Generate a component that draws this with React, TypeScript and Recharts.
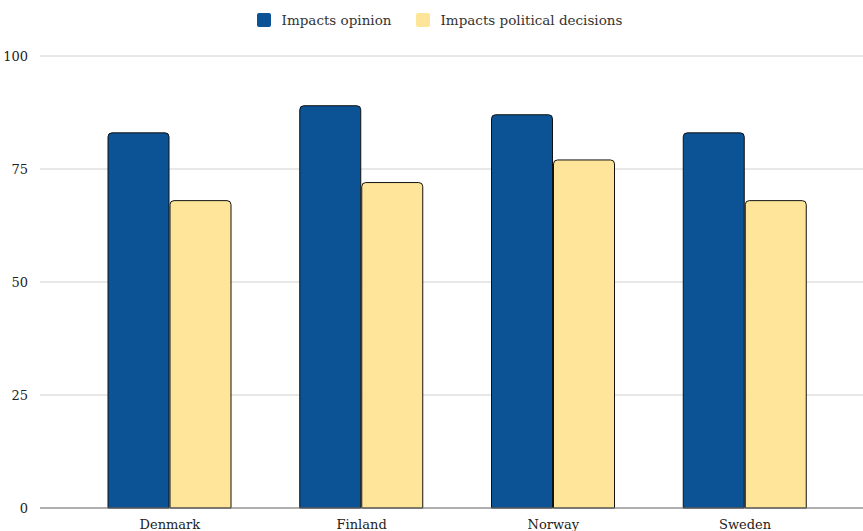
import { BarChart, Bar, XAxis, YAxis, CartesianGrid, Legend } from 'recharts';

const countries = ['Denmark', 'Finland', 'Norway', 'Sweden'];
const opinion = [83, 89, 87, 83];
const decisions = [68, 72, 77, 68];
const yTicks = [0, 25, 50, 75, 100];

const data = countries.map((name, i) => ({
  name,
  opinion: opinion[i],
  decisions: decisions[i],
}));

const FONT = '"DejaVu Serif", Georgia, serif';

const LegendContent = (props: any) => {
  const { payload } = props;
  return (
    <div style={{ display: 'flex', justifyContent: 'center', gap: 24, fontFamily: FONT, fontSize: 13.5, color: '#333', height: 14, alignItems: 'center', paddingLeft: 16 }}>
      {payload.map((p: any) => (
        <div key={p.value} style={{ display: 'flex', alignItems: 'center' }}>
          <span style={{ width: 14, height: 14, background: p.color, borderRadius: 2, marginRight: 11, display: 'inline-block' }} />
          {p.value}
        </div>
      ))}
    </div>
  );
};

export default function App() {
  return (
    <div style={{ position: 'absolute', left: 0, top: 0 }}>
      <BarChart
        width={863}
        height={531}
        data={data}
        margin={{ top: 42, right: 0, bottom: 0, left: 0 }}
        barGap={1}
        barSize={61}
      >
        <Legend verticalAlign="top" wrapperStyle={{ top: 13 }} content={LegendContent} />
        <CartesianGrid vertical={false} stroke="#d0d0d0" />
        <XAxis
          dataKey="name"
          height={23}
          padding={{ left: 34, right: 22 }}
          tickLine={false}
          tickMargin={6}
          axisLine={{ stroke: '#777' }}
          tick={{ fontFamily: FONT, fontSize: 13, fill: '#222' }}
        />
        <YAxis
          width={40}
          domain={[0, 100]}
          ticks={yTicks}
          axisLine={false}
          tickLine={false}
          tickMargin={6}
          tick={{ fontFamily: FONT, fontSize: 13, fill: '#222' }}
        />
        <Bar dataKey="opinion" name="Impacts opinion" fill="#0b5394" stroke="#111" strokeWidth={1} radius={[4, 4, 0, 0]} isAnimationActive={false} />
        <Bar dataKey="decisions" name="Impacts political decisions" fill="#ffe599" stroke="#111" strokeWidth={1} radius={[4, 4, 0, 0]} isAnimationActive={false} />
      </BarChart>
    </div>
  );
}
